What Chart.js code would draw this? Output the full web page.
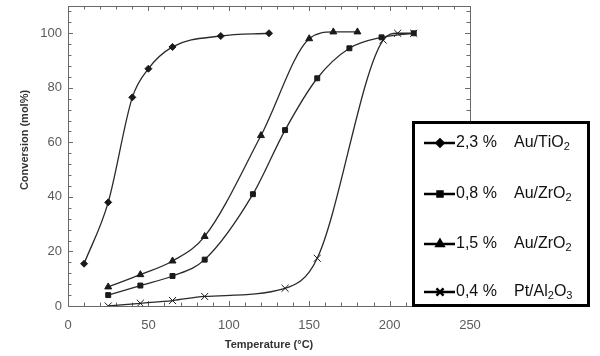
<!DOCTYPE html>
<html>
<head>
<meta charset="utf-8">
<script src="https://cdn.jsdelivr.net/npm/chart.js@4.4.1/dist/chart.umd.min.js"></script>
<style>
  html, body { margin: 0; padding: 0; background: #fff; }
  #wrap { width: 600px; height: 356px; position: relative; }
</style>
</head>
<body>
<div id="wrap"><canvas id="c" width="600" height="356"></canvas></div>
<script>
// ---- data ----
const temps1 = [10, 25, 40, 50, 65, 95, 125];
const conv1  = [15.5, 38, 76.5, 87, 95, 99, 100];
const temps2 = [25, 45, 65, 85, 115, 135, 155, 175, 195, 215];
const conv2  = [4, 7.5, 11, 17, 41, 64.5, 83.5, 94.5, 98.5, 100];
const temps3 = [25, 45, 65, 85, 120, 150, 165, 180];
const conv3  = [7, 11.5, 16.5, 25.5, 62.5, 98, 100.5, 100.5];
const temps4 = [25, 45, 65, 85, 135, 155, 196, 205, 215];
const conv4  = [0, 1, 2, 3.5, 6.5, 17.5, 97.5, 100, 100];

const legendPct = ['2,3 %', '0,8 %', '1,5 %', '0,4 %'];
const legendCat = ['Au/TiO_2', 'Au/ZrO_2', 'Au/ZrO_2', 'Pt/Al_2O_3'];
const xTickLabels = ['0', '50', '100', '150', '200', '250'];
const yTickLabels = ['0', '20', '40', '60', '80', '100'];
const xTitle = 'Temperature (°C)';
const yTitle = 'Conversion (mol%)';

const toXY = (xs, ys) => xs.map((x, i) => ({ x: x, y: ys[i] }));
const styles = [
  { pointStyle: 'rectRot', radius: 3.5, bw: 1 },
  { pointStyle: 'rect', radius: 3.5, bw: 1 },
  { pointStyle: 'triangle', radius: 4, bw: 1 },
  { pointStyle: 'crossRot', radius: 5, bw: 1 }
];
const series = [toXY(temps1, conv1), toXY(temps2, conv2), toXY(temps3, conv3), toXY(temps4, conv4)];

const datasets = series.map((d, i) => ({
  label: legendPct[i] + ' ' + legendCat[i].replace(/_/g, ''),
  data: d,
  borderColor: '#2a2a2a',
  backgroundColor: '#1a1a1a',
  pointBorderColor: '#1a1a1a',
  pointBackgroundColor: '#1a1a1a',
  borderWidth: 1.3,
  pointStyle: styles[i].pointStyle,
  pointRadius: styles[i].radius,
  pointBorderWidth: styles[i].bw,
  cubicInterpolationMode: 'monotone',
  fill: false
}));

const FONT = '"Liberation Sans", Arial, sans-serif';

const framePlugin = {
  id: 'frame',
  beforeDatasetsDraw(chart) {
    const { ctx, chartArea: a, scales } = chart;
    const xs = scales.x, ys = scales.y;
    ctx.save();
    ctx.strokeStyle = '#6a6a6a';
    ctx.lineWidth = 1;
    ctx.strokeRect(Math.round(a.left) + 0.5, Math.round(a.top) + 0.5, Math.round(a.right - a.left), Math.round(a.bottom - a.top));
    ctx.beginPath();
    for (let v = 10; v < 250; v += 10) {
      const px = Math.round(xs.getPixelForValue(v)) + 0.5;
      const len = (v % 50 === 0) ? 5 : 3.5;
      ctx.moveTo(px, a.bottom); ctx.lineTo(px, a.bottom - len);
      ctx.moveTo(px, a.top); ctx.lineTo(px, a.top + len);
    }
    for (let v = 4; v < 110; v += 4) {
      const py = Math.round(ys.getPixelForValue(v)) + 0.5;
      const len = (v % 20 === 0) ? 5 : 3.5;
      ctx.moveTo(a.left, py); ctx.lineTo(a.left + len, py);
      ctx.moveTo(a.right, py); ctx.lineTo(a.right - len, py);
    }
    ctx.stroke();
    ctx.restore();
  },
  afterDraw(chart) {
    const { ctx, chartArea: a } = chart;
    ctx.save();
    // axis titles
    ctx.fillStyle = '#333';
    ctx.font = 'bold 11px ' + FONT;
    ctx.textAlign = 'center';
    ctx.textBaseline = 'middle';
    ctx.fillText(xTitle, (a.left + a.right) / 2, 345);
    ctx.save();
    ctx.translate(25, 140);
    ctx.rotate(-Math.PI / 2);
    ctx.fillText(yTitle, 0, 0);
    ctx.restore();

    // legend box
    const bx = 412, by = 121, bw = 178, bh = 186;
    ctx.fillStyle = '#fff';
    ctx.fillRect(bx, by, bw, bh);
    ctx.strokeStyle = '#000';
    ctx.lineWidth = 3;
    ctx.strokeRect(bx + 1.5, by + 1.5, bw - 3, bh - 3);
    const rowsY = [143, 194, 244, 292];
    rowsY.forEach((ry, i) => {
      ctx.strokeStyle = '#000';
      ctx.lineWidth = 2.5;
      ctx.beginPath();
      ctx.moveTo(424, ry); ctx.lineTo(455, ry);
      ctx.stroke();
      const ds = chart.data.datasets[i];
      ctx.fillStyle = '#000';
      ctx.strokeStyle = '#000';
      Chart.helpers.drawPoint(ctx, {
        pointStyle: ds.pointStyle, radius: ds.pointRadius, borderWidth: 1.2, rotation: 0
      }, 440, ry);
      ctx.fillStyle = '#111';
      ctx.font = '16px ' + FONT;
      ctx.textAlign = 'left';
      ctx.textBaseline = 'middle';
      ctx.fillText(legendPct[i], 456, ry);
      // chemical name with subscripts
      let x = 514;
      const s = legendCat[i];
      for (let k = 0; k < s.length; k++) {
        if (s[k] === '_' && k + 1 < s.length) {
          ctx.font = '11px ' + FONT;
          ctx.fillText(s[k + 1], x, ry + 4);
          x += ctx.measureText(s[k + 1]).width;
          k++;
        } else {
          ctx.font = '16px ' + FONT;
          ctx.fillText(s[k], x, ry);
          x += ctx.measureText(s[k]).width;
        }
      }
    });
    ctx.restore();
  }
};

new Chart(document.getElementById('c'), {
  type: 'line',
  data: { datasets: datasets },
  options: {
    responsive: false,
    animation: false,
    devicePixelRatio: 1,
    layout: { padding: { top: 6, right: 130, left: 0, bottom: 0 } },
    plugins: { legend: { display: false }, tooltip: { enabled: false } },
    scales: {
      x: {
        type: 'linear', min: 0, max: 250,
        border: { display: false },
        grid: { display: false, drawTicks: false },
        ticks: {
          stepSize: 50, color: '#5a5a5a', padding: 12,
          font: { family: FONT, size: 13 },
          callback: (v) => { const i = xTickLabels.indexOf(String(v)); return i >= 0 ? xTickLabels[i] : ''; }
        },
        afterFit: (s) => { s.height = 50; s.paddingLeft = 0; s.paddingRight = 0; }
      },
      y: {
        type: 'linear', min: 0, max: 110,
        border: { display: false },
        grid: { display: false, drawTicks: false },
        ticks: {
          stepSize: 20, color: '#5a5a5a', padding: 6, includeBounds: false,
          font: { family: FONT, size: 13 },
          callback: (v) => { const i = yTickLabels.indexOf(String(v)); return i >= 0 ? yTickLabels[i] : ''; }
        },
        afterFit: (s) => { s.width = 68; s.paddingTop = 0; s.paddingBottom = 0; }
      }
    }
  },
  plugins: [framePlugin]
});
</script>
</body>
</html>
